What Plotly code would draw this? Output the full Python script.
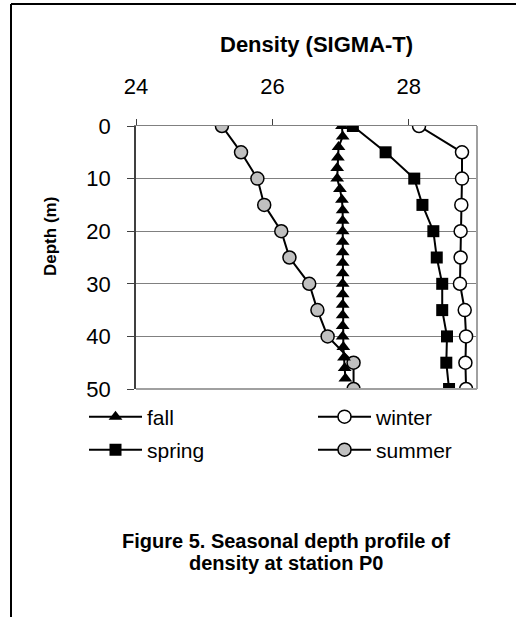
import plotly.graph_objects as go

# ---- data ----
fall_depth = [0, 2, 4, 6, 8, 10, 12, 14, 16, 18, 20, 22, 24, 26, 28, 30, 32, 34, 36, 38, 40, 42, 44, 46, 48]
fall_density = [27.02, 27.03, 26.97, 26.96, 26.95, 26.95, 26.99, 27.02, 27.03, 27.03, 27.03, 27.03, 27.03,
                27.03, 27.03, 27.03, 27.03, 27.03, 27.03, 27.03, 27.03, 27.04, 27.05, 27.06, 27.07]

season_depth = [0, 5, 10, 15, 20, 25, 30, 35, 40, 45, 50]
spring_density = [27.18, 27.66, 28.08, 28.20, 28.36, 28.41, 28.49, 28.49, 28.56, 28.55, 28.59]
winter_density = [28.15, 28.78, 28.78, 28.77, 28.76, 28.76, 28.75, 28.82, 28.84, 28.83, 28.84]
summer_density = [25.26, 25.54, 25.78, 25.88, 26.13, 26.25, 26.54, 26.66, 26.81, 27.19, 27.19]

x_ticks = [24, 26, 28]
y_ticks = [0, 10, 20, 30, 40, 50]

# ---- geometry helpers (pixels -> paper) ----
W, H = 516, 617
L, R, T, B = 136, 477, 126, 389
def px(x):
    return (x - L) / (R - L)
def py(y):
    return (B - y) / (B - T)

FONT = "Liberation Sans, Arial, sans-serif"

fig = go.Figure()

fig.add_trace(go.Scatter(
    x=summer_density, y=season_depth, name="summer", mode="lines+markers",
    line=dict(color="black", width=2),
    marker=dict(symbol="circle", size=13, color="#c0c0c0", line=dict(color="black", width=1.5)),
    legend="legend2", legendrank=2))
fig.add_trace(go.Scatter(
    x=fall_density, y=fall_depth, name="fall", mode="lines+markers",
    line=dict(color="black", width=2),
    marker=dict(symbol="triangle-up", size=12, color="black"),
    legend="legend", legendrank=1))
fig.add_trace(go.Scatter(
    x=spring_density, y=season_depth, name="spring", mode="lines+markers",
    line=dict(color="black", width=2),
    marker=dict(symbol="square", size=12, color="black"),
    legend="legend2", legendrank=1))
fig.add_trace(go.Scatter(
    x=winter_density, y=season_depth, name="winter", mode="lines+markers",
    line=dict(color="black", width=2),
    marker=dict(symbol="circle", size=13, color="white", line=dict(color="black", width=1.5)),
    legend="legend", legendrank=2))

legend_common = dict(
    orientation="h", xanchor="left", yanchor="middle",
    font=dict(family=FONT, size=21, color="black"),
    entrywidth=161, entrywidthmode="pixels", itemwidth=53,
    bgcolor="rgba(0,0,0,0)", borderwidth=0, traceorder="normal",
)

fig.update_layout(
    width=W, height=H,
    margin=dict(l=L, r=W - R, t=T, b=H - B, autoexpand=False),
    paper_bgcolor="white", plot_bgcolor="white",
    font=dict(family=FONT, size=21, color="black"),
    showlegend=True,
    legend=dict(x=px(84), y=py(417), **legend_common),
    legend2=dict(x=px(84), y=py(450), **legend_common),
    xaxis=dict(
        side="top", range=[24, 29], tickvals=x_ticks, ticktext=[str(v) for v in x_ticks],
        ticks="outside", ticklen=6, tickcolor="#404040", tickwidth=1,
        showline=True, linecolor="#808080", linewidth=1,
        showgrid=False, zeroline=False, automargin=False,
        ticklabelstandoff=16,
        tickfont=dict(family=FONT, size=22, color="black"),
    ),
    yaxis=dict(
        range=[50, 0], tickvals=y_ticks, ticktext=[str(v) for v in y_ticks],
        ticks="outside", ticklen=7, tickcolor="#404040", tickwidth=1,
        showline=True, linecolor="#404040", linewidth=1.5,
        showgrid=True, gridcolor="#808080", gridwidth=1, zeroline=False, automargin=False,
        ticklabelstandoff=12,
        tickfont=dict(family=FONT, size=22, color="black"),
    ),
    shapes=[
        # right & bottom plot border
        dict(type="line", xref="paper", yref="paper", x0=1, x1=1, y0=0, y1=1,
             line=dict(color="#a0a0a0", width=2)),
        dict(type="line", xref="paper", yref="paper", x0=0, x1=1, y0=0, y1=0,
             line=dict(color="#a0a0a0", width=2)),
        # outer frame (left & top)
        dict(type="line", xref="paper", yref="paper", x0=px(11), x1=px(11), y0=py(4), y1=py(H + 5),
             line=dict(color="black", width=2)),
        dict(type="line", xref="paper", yref="paper", x0=px(11), x1=px(W + 5), y0=py(4), y1=py(4),
             line=dict(color="black", width=2)),
    ],
    annotations=[
        dict(text="<b>Density (SIGMA-T)</b>", xref="paper", yref="paper", x=px(316), y=py(45),
             xanchor="center", yanchor="middle", showarrow=False,
             font=dict(family=FONT, size=22, color="black")),
        dict(text="<b>Depth (m)</b>", xref="paper", yref="paper", x=px(50), y=py(237),
             xanchor="center", yanchor="middle", showarrow=False, textangle=-90,
             font=dict(family=FONT, size=17, color="black")),
        dict(text="<b>Figure 5. Seasonal depth profile of</b>", xref="paper", yref="paper",
             x=px(286), y=py(541), xanchor="center", yanchor="middle", showarrow=False,
             font=dict(family=FONT, size=20, color="black")),
        dict(text="<b>density at station P0</b>", xref="paper", yref="paper",
             x=px(286), y=py(563), xanchor="center", yanchor="middle", showarrow=False,
             font=dict(family=FONT, size=20, color="black")),
    ],
)

fig.write_html("out.html", config={"displayModeBar": False},
               post_script="document.body.style.margin='0';document.body.style.overflow='hidden';")
